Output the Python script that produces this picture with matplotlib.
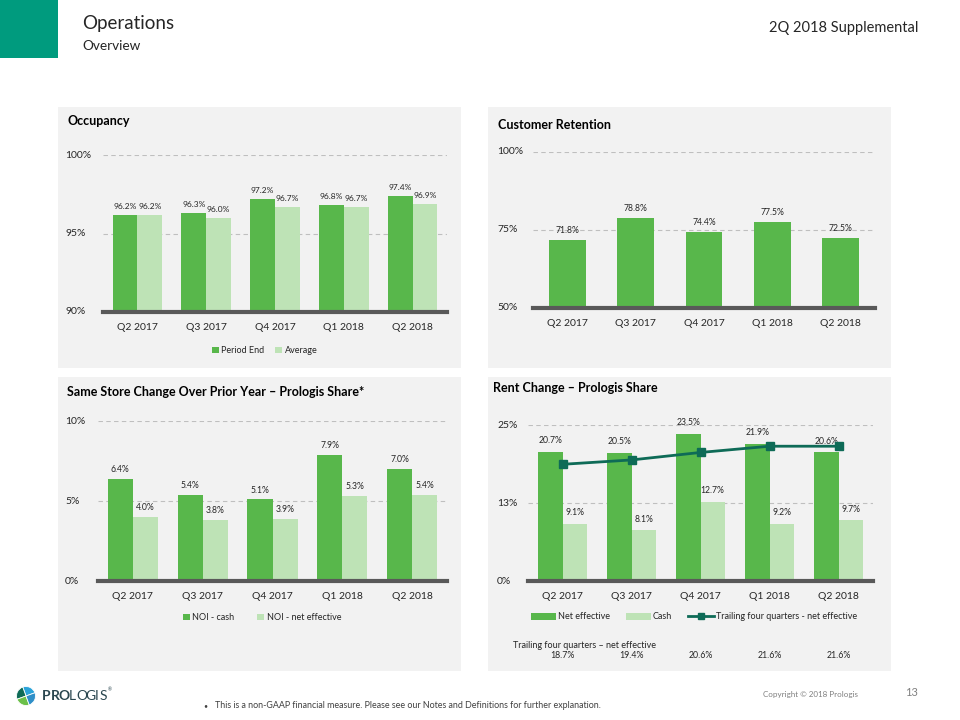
import numpy as np
import matplotlib
matplotlib.use("Agg")
import matplotlib.pyplot as plt
from matplotlib.patches import Rectangle, Wedge, Patch
from matplotlib.lines import Line2D
import matplotlib.transforms as mtransforms

plt.rcParams['font.family'] = ['Lato', 'DejaVu Sans']

# ---------------- data ----------------
quarters = ["Q2 2017", "Q3 2017", "Q4 2017", "Q1 2018", "Q2 2018"]
occ_period_end = [96.2, 96.3, 97.2, 96.8, 97.4]
occ_average = [96.2, 96.0, 96.7, 96.7, 96.9]
retention = [71.8, 78.8, 74.4, 77.5, 72.5]
noi_cash = [6.4, 5.4, 5.1, 7.9, 7.0]
noi_net_effective = [4.0, 3.8, 3.9, 5.3, 5.4]
rent_net_effective = [20.7, 20.5, 23.5, 21.9, 20.6]
rent_cash = [9.1, 8.1, 12.7, 9.2, 9.7]
trailing_net_effective = [18.7, 19.4, 20.6, 21.6, 21.6]

occ_ticks = [90, 95, 100]
occ_ticklabels = ["90%", "95%", "100%"]
ret_ticks = [50, 75, 100]
ret_ticklabels = ["50%", "75%", "100%"]
ss_ticks = [0, 5, 10]
ss_ticklabels = ["0%", "5%", "10%"]
rent_ticks = [0, 12.5, 25]
rent_ticklabels = ["0%", "13%", "25%"]

# ---------------- style ----------------
W, H = 960, 720
DARK = '#58B74B'
LIGHT = '#BEE3B6'
LINE = '#0E6B57'
PANEL = '#F2F2F2'
TXT = '#262626'
AXLINE = '#595959'
GRID = '#BFBFBF'

fig = plt.figure(figsize=(9.6, 7.2), dpi=100)
fig.patch.set_facecolor('white')


def fx(x):
    return x / W


def fy(y):
    return 1 - y / H


def rect(x0, y0, x1, y1):
    return [x0 / W, 1 - y1 / H, (x1 - x0) / W, (y1 - y0) / H]


# header
fig.patches.append(Rectangle((0, fy(58)), fx(58), 58 / H, transform=fig.transFigure,
                             facecolor='#009B7E', edgecolor='none', zorder=-1))
fig.text(fx(82), fy(24), "Operations", fontsize=13.5, color=TXT, va='center', ha='left')
fig.text(fx(82), fy(46), "Overview", fontsize=9.8, color=TXT, va='center', ha='left')
fig.text(fx(918), fy(28), "2Q 2018 Supplemental", fontsize=10.5, color=TXT, va='center', ha='right')

# panels
for (x0, y0, x1, y1) in [(58, 107, 461, 368), (488, 107, 891, 368),
                         (58, 377, 461, 671), (488, 377, 891, 671)]:
    fig.patches.append(Rectangle((fx(x0), fy(y1)), (x1 - x0) / W, (y1 - y0) / H,
                                 transform=fig.transFigure, facecolor=PANEL,
                                 edgecolor='none', zorder=-1))

fig.text(fx(67), fy(121), "Occupancy", fontsize=9, fontweight='bold', color='black', va='center')
fig.text(fx(498), fy(125), "Customer Retention", fontsize=9, fontweight='bold', color='black', va='center')
fig.text(fx(67), fy(392), "Same Store Change Over Prior Year \u2013 Prologis Share*", fontsize=9,
         fontweight='bold', color='black', va='center')
fig.text(fx(493), fy(388), "Rent Change \u2013 Prologis Share", fontsize=9, fontweight='bold',
         color='black', va='center')


def setup_axes(box, ylim, ticks, ticklabels, label_x):
    ax = fig.add_axes(rect(*box))
    ax.set_facecolor('none')
    ax.set_xlim(-0.5, 4.5)
    ax.set_ylim(*ylim)
    for s in ['top', 'right', 'left']:
        ax.spines[s].set_visible(False)
    ax.spines['bottom'].set_linewidth(3)
    ax.spines['bottom'].set_color(AXLINE)
    ax.spines['bottom'].set_zorder(5)
    ax.set_yticks([])
    ax.set_xticks(range(len(quarters)))
    ax.set_xticklabels(quarters, fontsize=7.5, color=TXT)
    ax.tick_params(axis='x', length=0, pad=8)
    tr = mtransforms.blended_transform_factory(fig.transFigure, ax.transData)
    for t, l in zip(ticks, ticklabels):
        ax.text(fx(label_x), t, l, transform=tr, fontsize=7.5, color=TXT, ha='left', va='center')
        if t != ylim[0]:
            ax.axhline(t, color=GRID, lw=0.8, ls=(0, (4, 3)), zorder=0)
    return ax


def labels(ax, xs, vals, off=3.5, fs=6.2):
    for x, v in zip(xs, vals):
        ax.annotate(f"{v:.1f}%", (x, v), xytext=(0, off), textcoords='offset points',
                    ha='center', va='bottom', fontsize=fs, color=TXT, annotation_clip=False)


x = np.arange(len(quarters))
bw = 0.36

# ---- Occupancy ----
ax1 = setup_axes((103, 155, 447, 312), (90, 100), occ_ticks, occ_ticklabels, 65)
ax1.bar(x - bw / 2, occ_period_end, bw, color=DARK, label='Period End', zorder=2)
ax1.bar(x + bw / 2, occ_average, bw, color=LIGHT, label='Average', zorder=2)
labels(ax1, x - bw / 2, occ_period_end, fs=6.0)
labels(ax1, x + bw / 2, occ_average, fs=6.0)
ax1.legend(loc='center', bbox_to_anchor=(0.47, -0.245), ncol=2, frameon=False, fontsize=6.5,
           handlelength=0.75, handleheight=0.75, handletextpad=0.3, columnspacing=1.2,
           labelcolor=TXT)

# ---- Customer Retention ----
ax2 = setup_axes((533, 152, 875, 308), (50, 100), ret_ticks, ret_ticklabels, 497)
ax2.bar(x, retention, 0.54, color=DARK, zorder=2)
labels(ax2, x, retention)

# ---- Same Store ----
ax3 = setup_axes((98, 421, 447, 581), (0, 10), ss_ticks, ss_ticklabels, 65)
ax3.bar(x - bw / 2, noi_cash, bw, color=DARK, label='NOI - cash', zorder=2)
ax3.bar(x + bw / 2, noi_net_effective, bw, color=LIGHT, label='NOI - net effective', zorder=2)
labels(ax3, x - bw / 2, noi_cash)
labels(ax3, x + bw / 2, noi_net_effective)
ax3.legend(loc='center', bbox_to_anchor=(0.47, -0.23), ncol=2, frameon=False, fontsize=6.5,
           handlelength=0.75, handleheight=0.75, handletextpad=0.3, columnspacing=2.5,
           labelcolor=TXT)

# ---- Rent Change ----
bw4 = 0.35
ax4 = setup_axes((528, 425, 873, 581), (0, 25), rent_ticks, rent_ticklabels, 497)
ax4.bar(x - bw4 / 2, rent_net_effective, bw4, color=DARK, label='Net effective', zorder=2)
ax4.bar(x + bw4 / 2, rent_cash, bw4, color=LIGHT, label='Cash', zorder=2)
ax4.plot(x, trailing_net_effective, color=LINE, lw=2, marker='s', markersize=6,
         label='Trailing four quarters - net effective', zorder=4)
labels(ax4, x - bw4 / 2, rent_net_effective, off=5)
labels(ax4, x + bw4 / 2, rent_cash, off=5)
handles = [Patch(facecolor=DARK, edgecolor='none'), Patch(facecolor=LIGHT, edgecolor='none'),
           Line2D([], [], color=LINE, lw=2, marker='s', markersize=5)]
ax4.legend(handles, ['Net effective', 'Cash', 'Trailing four quarters - net effective'],
           loc='center', bbox_to_anchor=(0.48, -0.23), ncol=3, frameon=False, fontsize=6.5,
           handlelength=2.8, handleheight=0.9, handletextpad=0.2, columnspacing=1.8,
           labelcolor=TXT)

fig.text(fx(513), fy(645), "Trailing four quarters \u2013 net effective", fontsize=6.5, color=TXT,
         va='center', ha='left')
tr4 = mtransforms.blended_transform_factory(ax4.transData, fig.transFigure)
for xi, v in zip(x, trailing_net_effective):
    ax4.text(xi, fy(656), f"{v:.1f}%", transform=tr4, fontsize=6.3, color=TXT,
             ha='center', va='center')

# ---- footer ----
logo_ax = fig.add_axes(rect(16, 686, 36, 706))
logo_ax.set_xlim(-1, 1)
logo_ax.set_ylim(-1, 1)
logo_ax.set_aspect('equal')
logo_ax.axis('off')
for th1, th2, c in [(20, 110, '#2AA3D9'), (110, 200, '#0E6B57'), (200, 290, '#6CC04A'),
                    (290, 380, '#2F8FC8')]:
    logo_ax.add_patch(Wedge((0, 0), 0.95, th1, th2, facecolor=c, edgecolor='white', lw=0.6))
for ch, cx, bold in [("P", 46.5, True), ("R", 55.5, True), ("O", 64.5, True),
                     ("L", 72.5, False), ("O", 81.5, False), ("G", 90.5, False),
                     ("I", 97, False), ("S", 103, False)]:
    fig.text(fx(cx), fy(696), ch, fontsize=10, fontweight='bold' if bold else 'normal',
             color='#2B4750', va='center', ha='center')
fig.text(fx(107.5), fy(690), "\u00ae", fontsize=3.5, color='#2B4750', va='center', ha='left')

fig.text(fx(203), fy(706), "\u2022", fontsize=5, color='#404040', va='center', ha='left')
fig.text(fx(215), fy(706),
         "This is a non-GAAP financial measure. Please see our Notes and Definitions for further explanation.",
         fontsize=6.4, color='#404040', va='center', ha='left')
fig.text(fx(858), fy(695), "Copyright \u00a9 2018 Prologis", fontsize=5.8, color='#808080',
         va='center', ha='right')
fig.text(fx(918), fy(692), "13", fontsize=8, color='#808080', va='center', ha='right')

fig.savefig("out.png", dpi=100, facecolor='white')
